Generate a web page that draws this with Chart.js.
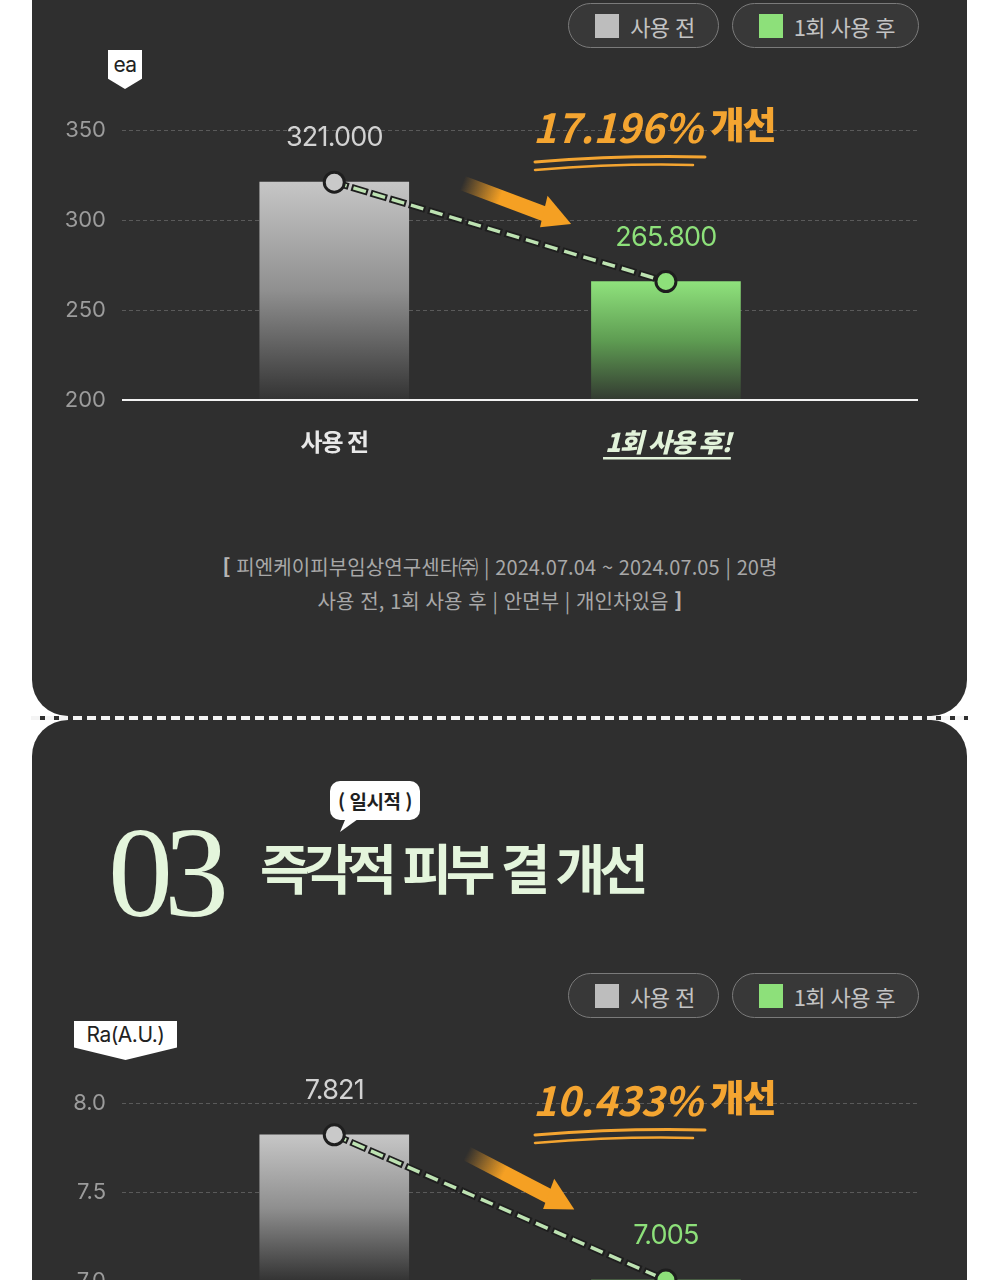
<!DOCTYPE html>
<html lang="ko">
<head>
<meta charset="utf-8">
<script src="https://cdn.jsdelivr.net/npm/chart.js@4.4.1/dist/chart.umd.min.js"></script>
<style>
html,body{margin:0;padding:0;background:#fff;}
body{width:1000px;height:1280px;overflow:hidden;position:relative;font-family:"Noto Sans CJK KR","Noto Sans",sans-serif;}
.card{position:absolute;left:32px;width:935px;background:#2f2f2f;}
#card1{top:-40px;height:756px;border-radius:0 0 36px 36px;}
#card2{top:720px;height:620px;border-radius:36px 36px 0 0;}
#sep{position:absolute;left:31px;width:937px;top:716px;height:4px;background:repeating-linear-gradient(to right,#f4f4f4 0 9px,#2f2f2f 9px 14px);}
canvas{position:absolute;left:0;}
#c1{top:0;}
#c2{top:1000px;}
.legend{position:absolute;right:81px;display:flex;gap:13px;}
.pill{box-sizing:border-box;height:45px;border:1.5px solid #7a7a7a;border-radius:23px;background:#383838;display:flex;align-items:center;padding:0 23px 0 26px;font-size:22px;color:#c3c3c3;letter-spacing:-0.6px;}
.pill i{display:inline-block;width:24px;height:24px;margin-right:11px;}
.tag{position:absolute;background:#fff;color:#222;height:39px;text-align:center;font-family:Inter,"Noto Sans CJK KR",sans-serif;font-size:21px;line-height:30px;letter-spacing:-0.5px;}
#tag1{left:108px;top:50px;width:34px;clip-path:polygon(0 0,100% 0,100% 74%,50% 100%,0 74%);}
#tag2{left:74px;top:1021px;width:103px;line-height:27px;clip-path:polygon(0 0,100% 0,100% 68%,50% 100%,0 68%);}
#note{position:absolute;left:0;top:550px;width:1000px;text-align:center;font-size:20px;line-height:34px;color:#a8a8a8;letter-spacing:0.1px;}
#note b{color:#b5b5b5;font-weight:900;}
#num{position:absolute;left:108px;top:807px;font-family:"Liberation Serif",serif;font-size:130px;line-height:130px;color:#e4f5dc;letter-spacing:-9px;}
#title{position:absolute;left:260px;top:832px;font-size:54px;line-height:70px;font-weight:700;color:#e4f5dc;letter-spacing:-6px;word-spacing:2px;}
#bubble{position:absolute;left:330px;top:781px;width:90px;height:39px;background:#fff;border-radius:10px;color:#1f1f1f;font-size:19px;font-weight:700;line-height:39px;text-align:center;letter-spacing:-0.5px;}
#bubble:after{content:"";position:absolute;left:10px;bottom:-12px;width:18px;height:13px;background:#fff;clip-path:polygon(30% 0,100% 0,0 100%);}
</style>
</head>
<body>
<div class="card" id="card1"></div>
<div id="sep"></div>
<div class="card" id="card2"></div>

<div class="legend" id="legend1" style="top:3px"></div>
<div class="tag" id="tag1">ea</div>
<canvas id="c1" width="1000" height="480"></canvas>
<div id="note"><b>[</b> 피엔케이피부임상연구센타㈜ | 2024.07.04 ~ 2024.07.05 | 20명<br>사용 전, 1회 사용 후 | 안면부 | 개인차있음 <b>]</b></div>

<div id="bubble">( 일시적 )</div>
<div id="num">03</div>
<div id="title">즉각적 피부 결 개선</div>
<div class="legend" id="legend2" style="top:973px"></div>
<div class="tag" id="tag2">Ra(A.U.)</div>
<canvas id="c2" width="1000" height="380"></canvas>

<script>
// shared categories
const categories = ['사용 전', '1회 사용 후'];
const xTickLabels = ['사용 전', '1회 사용 후!'];
const seriesColors = ['#bdbdbd', '#8de07a'];

// chart 1 : count (ea)
const countValues = [321.000, 265.800];
const countTicks = [200, 250, 300, 350];

// chart 2 : roughness Ra(A.U.)
const roughValues = [7.821, 7.005];
const roughTicks = [7.0, 7.5, 8.0];

const gradStops = [
  ['#c6c6c6', '#8f8f8f', '#333333'],
  ['#8fe27c', '#5e9c52', '#333a31']
];

function buildLegend(id){
  const el = document.getElementById(id);
  categories.forEach(function(name,i){
    const pill = document.createElement('div');
    pill.className = 'pill';
    pill.innerHTML = '<i style="background:' + seriesColors[i] + '"></i>' + name;
    el.appendChild(pill);
  });
}

function barGradient(c){
  const chart = c.chart;
  if(!chart.chartArea || c.parsed == null) return seriesColors[c.dataIndex];
  const y = chart.scales.y;
  const top = y.getPixelForValue(c.parsed.y);
  const bottom = y.getPixelForValue(y.min);
  const g = chart.ctx.createLinearGradient(0, top, 0, bottom);
  const s = gradStops[c.dataIndex];
  g.addColorStop(0, s[0]);
  g.addColorStop(0.5, s[1]);
  g.addColorStop(1, s[2]);
  return g;
}

const decoPlugin = {
  id: 'deco',
  afterDatasetsDraw(chart){
    const ctx = chart.ctx;
    const area = chart.chartArea;
    const y = chart.scales.y;
    const values = chart.data.datasets[0].data.map(function(d){ return d.y; });
    const pts = chart.getDatasetMeta(2).data;

    ctx.save();

    // baseline
    const yb = y.getPixelForValue(y.min);
    ctx.strokeStyle = '#f2f2f2';
    ctx.lineWidth = 2;
    ctx.beginPath();
    ctx.moveTo(area.left, yb);
    ctx.lineTo(area.right, yb);
    ctx.stroke();

    // value labels
    ctx.textAlign = 'center';
    ctx.textBaseline = 'middle';
    ctx.font = '27px Inter, "Noto Sans CJK KR"';
    ctx.letterSpacing = '-0.8px';
    pts.forEach(function(p,i){
      ctx.fillStyle = i === 0 ? '#d2d2d2' : '#8de07a';
      ctx.fillText(values[i].toFixed(3), p.x, p.y - 44);
    });

    // x labels
    ctx.letterSpacing = '-1px';
    pts.forEach(function(p,i){
      const ly = yb + 42;
      if(i === 0){
        ctx.font = '700 24px "Noto Sans CJK KR"';
        ctx.fillStyle = '#e8e8e8';
        ctx.fillText(xTickLabels[i], p.x, ly);
      }else{
        ctx.font = 'italic 800 26px "Noto Sans CJK KR"';
        ctx.fillStyle = '#e2f3da';
        ctx.fillText(xTickLabels[i], p.x + 2, ly);
        const w = ctx.measureText(xTickLabels[i]).width;
        ctx.fillRect(p.x + 2 - w/2 - 2, ly + 15, w + 2, 2.5);
      }
    });

    // orange arrow along the trend
    const p0 = pts[0], p1 = pts[1];
    const dx = p1.x - p0.x, dy = p1.y - p0.y;
    const L = Math.hypot(dx, dy);
    const ux = dx / L, uy = dy / L;
    const nx = uy, ny = -ux;
    const tx = p0.x + ux*L*0.355 + nx*36, ty = p0.y + uy*L*0.355 + ny*36;
    const hx = p0.x + ux*L*0.69 + nx*28, hy = p0.y + uy*L*0.69 + ny*28;
    const ax = hx - tx, ay = hy - ty;
    const al = Math.hypot(ax, ay);
    const vx = ax/al, vy = ay/al;
    const wx = vy, wy = -vx;
    const g = ctx.createLinearGradient(tx, ty, hx, hy);
    g.addColorStop(0, 'rgba(245,160,35,0)');
    g.addColorStop(0.35, '#f5a023');
    g.addColorStop(1, '#f5a023');
    ctx.strokeStyle = g;
    ctx.lineWidth = 15;
    ctx.beginPath();
    ctx.moveTo(tx, ty);
    ctx.lineTo(hx - vx*24, hy - vy*24);
    ctx.stroke();
    ctx.fillStyle = '#f5a023';
    ctx.beginPath();
    ctx.moveTo(hx, hy);
    ctx.lineTo(hx - vx*32 + wx*18, hy - vy*32 + wy*18);
    ctx.lineTo(hx - vx*28 - wx*14, hy - vy*28 - wy*14);
    ctx.closePath();
    ctx.fill();

    // improvement annotation
    const pct = ((values[0] - values[1]) / values[0] * 100).toFixed(3) + '%';
    const x0 = area.left + 411;
    const cy = area.top - 2;
    ctx.textAlign = 'left';
    ctx.fillStyle = '#f4a531';
    ctx.font = 'italic 700 40px "Noto Sans CJK KR"';
    ctx.letterSpacing = '0px';
    ctx.fillText(pct, x0, cy);
    const pw = ctx.measureText(pct).width;
    ctx.font = '900 37px "Noto Sans CJK KR"';
    ctx.letterSpacing = '-2px';
    ctx.fillText('개선', x0 + pw + 8, cy - 3);
    ctx.strokeStyle = '#f4a531';
    ctx.lineCap = 'round';
    ctx.lineWidth = 3;
    ctx.beginPath();
    ctx.moveTo(x0 + 2, cy + 34);
    ctx.quadraticCurveTo(x0 + 90, cy + 27, x0 + 172, cy + 29);
    ctx.stroke();
    ctx.lineWidth = 2.5;
    ctx.beginPath();
    ctx.moveTo(x0 + 2, cy + 42);
    ctx.quadraticCurveTo(x0 + 90, cy + 35, x0 + 160, cy + 37);
    ctx.stroke();

    ctx.restore();
  }
};

function makeChart(id, values, ticks, decimals, pad){
  const pointsData = values.map(function(v,i){ return {x: i + 1, y: v}; });
  return new Chart(document.getElementById(id), {
    type: 'bar',
    data: {
      datasets: [
        {
          type: 'bar',
          data: pointsData,
          backgroundColor: barGradient,
          borderWidth: 0,
          barThickness: 149,
          order: 3
        },
        {
          type: 'line',
          data: pointsData,
          borderColor: '#1e1e1e',
          borderWidth: 7,
          borderDash: [17, 3],
          borderDashOffset: 2,
          pointRadius: 0,
          order: 2
        },
        {
          type: 'line',
          data: pointsData,
          borderColor: '#bde2b2',
          borderWidth: 3.5,
          borderDash: [13, 7],
          pointRadius: 10,
          pointBorderWidth: 3,
          pointBorderColor: '#1e1e1e',
          pointBackgroundColor: seriesColors.map(function(c,i){ return i === 0 ? '#c9c9c9' : c; }),
          order: 1
        }
      ]
    },
    options: {
      responsive: false,
      animation: false,
      events: [],
      layout: {padding: pad},
      plugins: {legend: {display: false}, tooltip: {enabled: false}},
      scales: {
        x: {type: 'linear', min: 0.36, max: 2.76, offset: false, display: false},
        y: {
          min: ticks[0],
          max: ticks[ticks.length - 1],
          afterFit: function(scale){ scale.width = 122; },
          ticks: {
            stepSize: ticks[1] - ticks[0],
            padding: 16,
            color: '#9c9c9c',
            font: {family: 'Inter', size: 22},
            callback: function(v){ return Number(v).toFixed(decimals); }
          },
          grid: {color: '#5a5a5a', lineWidth: 1, drawTicks: false},
          border: {display: false, dash: [4, 3]}
        }
      }
    },
    plugins: [decoPlugin]
  });
}

buildLegend('legend1');
buildLegend('legend2');
makeChart('c1', countValues, countTicks, 0, {left: 0, top: 130, right: 82, bottom: 80});
makeChart('c2', roughValues, roughTicks, 1, {left: 0, top: 103, right: 82, bottom: 99});
</script>
</body>
</html>
